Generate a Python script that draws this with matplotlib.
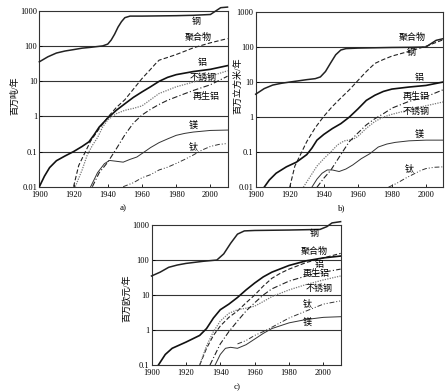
import matplotlib.pyplot as plt
from matplotlib.ticker import FixedLocator, NullLocator

plt.rcParams['font.family'] = ['Liberation Serif', 'Noto Sans CJK SC', 'DejaVu Sans']

# ---- panel a: mass (Mt / yr)
steel_a_x = [1900, 1905, 1910, 1915, 1920, 1925, 1930, 1937, 1940, 1942, 1944, 1946, 1948, 1950, 1953, 1960,
             1970, 1980, 1990, 2000, 2003, 2006, 2010]
steel_a = [36, 50, 64, 73, 80, 88, 93, 102, 115, 150, 220, 350, 500, 650, 720, 720,
           730, 740, 760, 800, 1000, 1250, 1300]
al_a_x = [1900, 1903, 1906, 1910, 1915, 1920, 1925, 1929, 1932, 1935, 1940, 1945, 1950, 1955, 1960, 1965,
          1970, 1975, 1980, 1990, 2000, 2010]
al_a = [0.01, 0.02, 0.035, 0.055, 0.075, 0.1, 0.14, 0.19, 0.3, 0.5, 0.9, 1.5, 2.3, 3.5, 5, 7,
        10, 13, 15.5, 19, 22, 28]
poly_a_x = [1920, 1923, 1926, 1930, 1935, 1940, 1945, 1950, 1955, 1960, 1965, 1968, 1970, 1975, 1980,
            1985, 1990, 2000, 2010]
poly_a = [0.01, 0.04, 0.08, 0.2, 0.45, 0.95, 1.8, 3.0, 6, 12, 22, 32, 40, 48, 58, 72, 90, 125, 165]
ss_a_x = [1921, 1925, 1928, 1931, 1934, 1937, 1940, 1945, 1950, 1955, 1960, 1965, 1970, 1975, 1980,
          1990, 2000, 2010]
ss_a = [0.01, 0.03, 0.08, 0.15, 0.25, 0.5, 0.8, 1.2, 1.5, 1.7, 2.0, 3.0, 4.5, 5.6, 7, 9.5, 14, 20]
ral_a_x = [1931, 1935, 1940, 1945, 1950, 1955, 1960, 1965, 1970, 1975, 1980, 1990, 2000, 2010]
ral_a = [0.01, 0.025, 0.05, 0.12, 0.3, 0.65, 1.1, 1.6, 2.2, 2.9, 3.6, 5.5, 8, 14]
mg_a_x = [1930, 1934, 1938, 1941, 1945, 1949, 1953, 1957, 1961, 1965, 1970, 1975, 1980, 1985, 1990,
          2000, 2010]
mg_a = [0.01, 0.025, 0.045, 0.056, 0.053, 0.05, 0.06, 0.07, 0.095, 0.13, 0.18, 0.23, 0.29, 0.33, 0.36,
        0.40, 0.41]
ti_a_x = [1949, 1955, 1960, 1965, 1970, 1975, 1980, 1985, 1990, 1995, 2000, 2005, 2010]
ti_a = [0.01, 0.013, 0.018, 0.022, 0.03, 0.036, 0.046, 0.06, 0.08, 0.11, 0.14, 0.16, 0.17]

# ---- panel b: volume (million m3 / yr)
steel_b_x = [1900, 1905, 1910, 1915, 1920, 1925, 1930, 1935, 1938, 1941, 1944, 1947, 1950, 1953, 1960,
             1970, 1980, 1990, 2000, 2003, 2006, 2010]
steel_b = [4.5, 6.5, 8.2, 9.2, 10, 10.8, 11.7, 12.5, 14, 20, 35, 60, 82, 90, 93, 95, 97, 98, 100, 125, 155, 172]
al_b_x = [1905, 1908, 1912, 1918, 1924, 1930, 1933, 1936, 1940, 1945, 1950, 1955, 1960, 1965, 1970,
          1975, 1980, 1990, 2000, 2010]
al_b = [0.01, 0.016, 0.025, 0.038, 0.052, 0.085, 0.13, 0.22, 0.32, 0.47, 0.65, 1.0, 1.7, 3.0, 4.2,
        5.4, 6.3, 7.2, 8.0, 10]
poly_b_x = [1920, 1923, 1927, 1930, 1935, 1940, 1945, 1950, 1955, 1960, 1965, 1970, 1975, 1980, 1990,
            2000, 2010]
poly_b = [0.01, 0.04, 0.1, 0.2, 0.5, 1.05, 2.0, 3.5, 6, 11, 20, 34, 44, 55, 75, 105, 160]
ss_b_x = [1928, 1932, 1936, 1940, 1944, 1948, 1952, 1957, 1960, 1965, 1970, 1975, 1980, 1990, 2000, 2010]
ss_b = [0.01, 0.02, 0.04, 0.065, 0.1, 0.16, 0.21, 0.23, 0.28, 0.48, 0.75, 1.0, 1.2, 1.6, 2.1, 2.7]
ral_b_x = [1936, 1940, 1944, 1948, 1952, 1955, 1960, 1965, 1970, 1975, 1980, 1990, 2000, 2010]
ral_b = [0.01, 0.018, 0.03, 0.06, 0.12, 0.2, 0.35, 0.6, 0.9, 1.25, 1.8, 2.8, 3.8, 6.0]
mg_b_x = [1933, 1936, 1939, 1942, 1945, 1949, 1953, 1957, 1962, 1967, 1972, 1977, 1982, 1990, 2000, 2010]
mg_b = [0.01, 0.017, 0.025, 0.031, 0.031, 0.028, 0.033, 0.043, 0.065, 0.09, 0.14, 0.17, 0.19, 0.21,
        0.22, 0.22]
ti_b_x = [1978, 1983, 1988, 1993, 1997, 2000, 2005, 2010]
ti_b = [0.01, 0.013, 0.018, 0.024, 0.03, 0.034, 0.037, 0.038]

# ---- panel c: value (million EUR / yr)
steel_c_x = [1900, 1905, 1910, 1915, 1920, 1930, 1938, 1942, 1946, 1950, 1954, 1960, 1980, 1998, 2002,
             2005, 2010]
steel_c = [35, 45, 62, 72, 80, 92, 100, 150, 300, 550, 680, 700, 720, 750, 900, 1150, 1250]
al_c_x = [1904, 1908, 1912, 1920, 1928, 1932, 1936, 1940, 1945, 1950, 1955, 1960, 1965, 1970, 1980,
          1990, 2000, 2010]
al_c = [0.1, 0.2, 0.3, 0.45, 0.7, 1.1, 2.2, 3.8, 5.5, 8.5, 14, 22, 33, 45, 70, 95, 115, 130]
poly_c_x = [1928, 1932, 1936, 1940, 1945, 1950, 1955, 1960, 1965, 1970, 1975, 1980, 1990, 2000, 2010]
poly_c = [0.1, 0.3, 0.7, 1.3, 2.3, 3.5, 6, 10, 18, 30, 42, 55, 85, 115, 155]
ss_c_x = [1928, 1932, 1936, 1940, 1945, 1950, 1955, 1960, 1965, 1970, 1980, 1990, 2000, 2010]
ss_c = [0.1, 0.35, 0.9, 1.8, 3.0, 3.8, 4.2, 4.8, 6.5, 9, 14, 20, 27, 35]
ral_c_x = [1934, 1940, 1945, 1950, 1955, 1960, 1965, 1970, 1980, 1990, 2000, 2010]
ral_c = [0.1, 0.4, 0.9, 1.8, 3.5, 6, 10, 15, 25, 35, 45, 55]
mg_c_x = [1937, 1940, 1943, 1946, 1950, 1955, 1960, 1965, 1970, 1980, 1990, 2000, 2010]
mg_c = [0.1, 0.2, 0.3, 0.32, 0.3, 0.38, 0.55, 0.8, 1.1, 1.6, 2.0, 2.3, 2.4]
ti_c_x = [1950, 1955, 1960, 1965, 1970, 1980, 1990, 2000, 2010]
ti_c = [0.4, 0.5, 0.7, 0.9, 1.2, 2.2, 3.5, 5.5, 6.8]

names = ['钢', '聚合物', '铝', '不锈钢', '再生铝', '镁', '钛']
label_pos_a = [(1991.6, 495), (1992.8, 180), (1995, 33), (1996, 13), (1997.5, 3.8), (1989.8, 0.54), (1989.8, 0.14)]
label_pos_b = [(1991.2, 68), (1992.2, 186), (1996.1, 13.5), (1994.2, 1.4), (1994.2, 3.8), (1996.1, 0.3), (1990.2, 0.034)]
label_pos_c = [(1994.5, 580), (1994.5, 172), (1997.4, 72), (1997.4, 15.5), (1995.5, 42), (1990.6, 1.55), (1990.6, 5.8)]

ylabels = ['百万吨/年', '百万立方米/年', '百万欧元/年']
ylabel_xy = [(-0.105, 0.516), (-0.07, 0.58), (-0.1, 0.48)]
xticks = [1900, 1920, 1940, 1960, 1980, 2000]

# line styles: steel, polymer, aluminium, stainless, recycled Al, Mg, Ti
styles = [dict(ls='-', lw=1.1, color='#222222'),
          dict(ls=(0, (4, 2)), lw=0.8, color='#222222'),
          dict(ls='-', lw=1.2, color='#111111'),
          dict(ls=(0, (1, 1)), lw=0.9, color='#777777'),
          dict(ls=(0, (5, 2, 1, 2)), lw=0.8, color='#222222'),
          dict(ls='-', lw=0.7, color='#333333'),
          dict(ls=(0, (5, 2, 1, 2, 1, 2)), lw=0.7, color='#333333')]


def setup(ax, ymin, ylab, lxy):
    ax.set_yscale('log')
    ax.set_xlim(1900, 2010)
    ax.set_ylim(ymin, 1000)
    ticks = [t for t in [0.01, 0.1, 1, 10, 100, 1000] if t >= ymin]
    ax.yaxis.set_major_locator(FixedLocator(ticks))
    ax.yaxis.set_minor_locator(NullLocator())
    ax.set_yticklabels([('%g' % t) for t in ticks])
    ax.set_xticks(xticks)
    ax.tick_params(labelsize=6, length=2, width=0.6, direction='in')
    ax.tick_params(axis='x', pad=3)
    ax.tick_params(axis='y', pad=1.5)
    for t in ticks[1:-1]:
        ax.axhline(t, color='#333333', lw=0.8, zorder=1)
    for s in ax.spines.values():
        s.set_linewidth(0.8)
        s.set_color('#333333')
    ax.set_ylabel(ylab, fontsize=6.5)
    ax.yaxis.set_label_coords(*lxy)


fig = plt.figure(figsize=(4.47, 3.92), dpi=100)
ax_a = fig.add_axes([0.088, 0.5237, 0.421, 0.448])
ax_b = fig.add_axes([0.572, 0.5225, 0.419, 0.447])
ax_c = fig.add_axes([0.339, 0.0689, 0.423, 0.357])

panels = [
    (ax_a, 0.01, [(steel_a_x, steel_a), (poly_a_x, poly_a), (al_a_x, al_a), (ss_a_x, ss_a),
                  (ral_a_x, ral_a), (mg_a_x, mg_a), (ti_a_x, ti_a)], label_pos_a),
    (ax_b, 0.01, [(steel_b_x, steel_b), (poly_b_x, poly_b), (al_b_x, al_b), (ss_b_x, ss_b),
                  (ral_b_x, ral_b), (mg_b_x, mg_b), (ti_b_x, ti_b)], label_pos_b),
    (ax_c, 0.1, [(steel_c_x, steel_c), (poly_c_x, poly_c), (al_c_x, al_c), (ss_c_x, ss_c),
                 (ral_c_x, ral_c), (mg_c_x, mg_c), (ti_c_x, ti_c)], label_pos_c),
]

for i, (ax, ymin, series, lpos) in enumerate(panels):
    setup(ax, ymin, ylabels[i], ylabel_xy[i])
    for j, (xs, ys) in enumerate(series):
        ax.plot(xs, ys, zorder=3, clip_on=(j != 0), **styles[j])
    for name, (x, y) in zip(names, lpos):
        ax.text(x, y, name, fontsize=6.5, ha='center', va='center', zorder=4)

fig.text(123 / 447, 1 - 208 / 392, 'a)', fontsize=6.5, ha='center', va='center')
fig.text(342 / 447, 1 - 208 / 392, 'b)', fontsize=6.5, ha='center', va='center')
fig.text(237 / 447, 1 - 387 / 392, 'c)', fontsize=6.5, ha='center', va='center')

fig.savefig('out.png', dpi=100)
